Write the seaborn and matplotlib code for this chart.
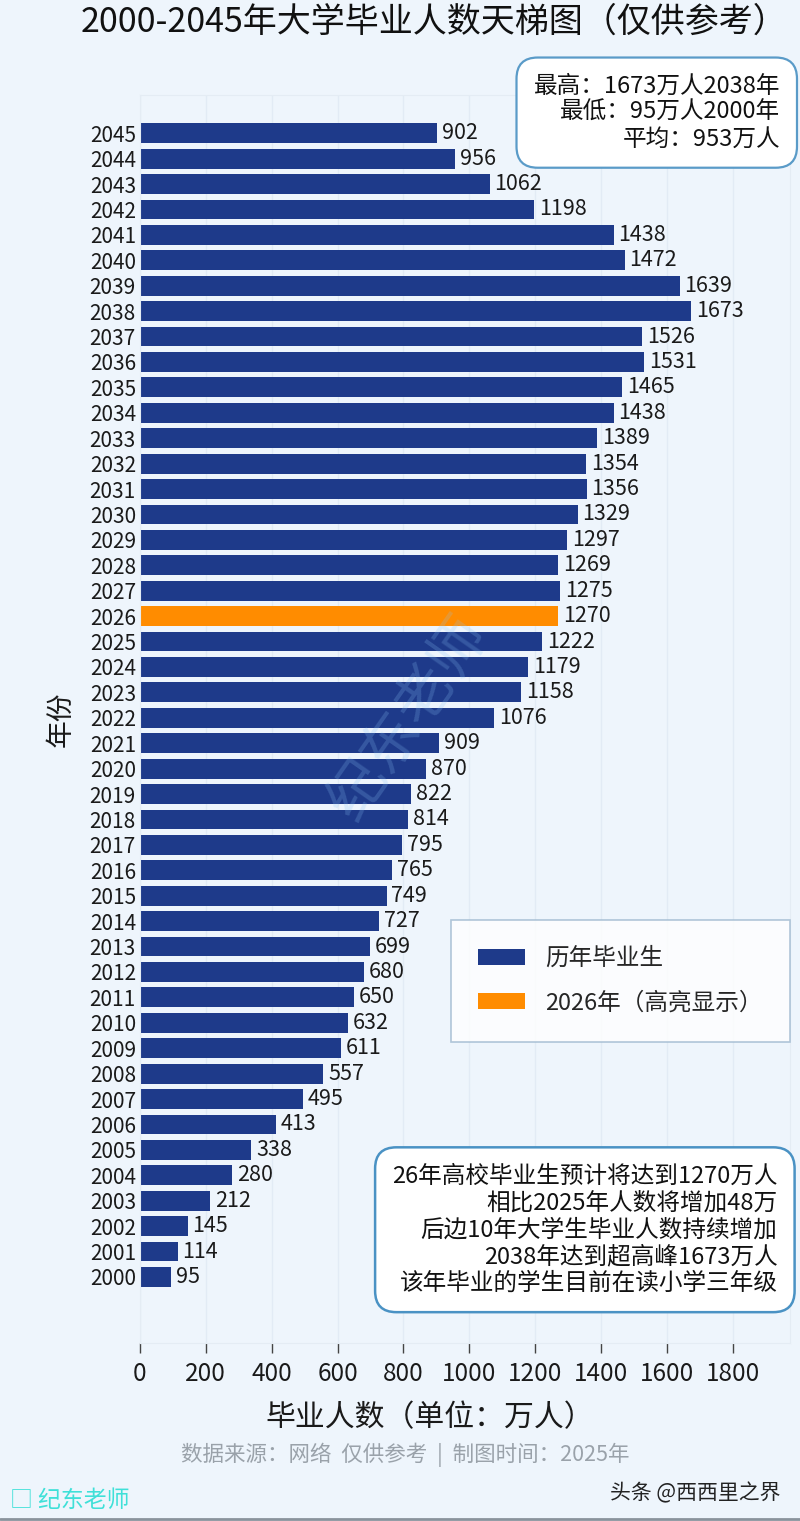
import matplotlib
matplotlib.use("Agg")
import matplotlib.pyplot as plt
import seaborn as sns
import pandas as pd
from matplotlib.patches import Patch

years = list(range(2000, 2046))
graduates = [95, 114, 145, 212, 280, 338, 413, 495, 557, 611,
             632, 650, 680, 699, 727, 749, 765, 795, 814, 822,
             870, 909, 1076, 1158, 1179, 1222, 1270, 1275, 1269, 1297,
             1329, 1356, 1354, 1389, 1438, 1465, 1531, 1526, 1673, 1639,
             1472, 1438, 1198, 1062, 956, 902]
highlight_year = 2026
legend_labels = ["历年毕业生", "2026年（高亮显示）"]
x_ticks = [0, 200, 400, 600, 800, 1000, 1200, 1400, 1600, 1800]

title = "2000-2045年大学毕业人数天梯图（仅供参考）"
info_text = "最高：1673万人2038年\n最低：95万人2000年\n平均：953万人"
note_text = ("26年高校毕业生预计将达到1270万人\n相比2025年人数将增加48万\n"
             "后边10年大学生毕业人数持续增加\n2038年达到超高峰1673万人\n"
             "该年毕业的学生目前在读小学三年级")
footer = "数据来源：网络  仅供参考  |  制图时间：2025年"

NAVY = "#1E3A8A"
ORANGE = "#FF8C00"
BG = "#EEF5FC"

sns.set_theme(style="white")
plt.rcParams['font.family'] = ['Noto Sans CJK SC', 'DejaVu Sans']
plt.rcParams['axes.unicode_minus'] = False

df = pd.DataFrame({
    "year": [str(y) for y in years],
    "value": graduates,
    "group": [legend_labels[1] if y == highlight_year else legend_labels[0] for y in years],
})
order = [str(y) for y in sorted(years, reverse=True)]

fig = plt.figure(figsize=(8, 15.21), dpi=100, facecolor=BG)
ax = fig.add_axes([0.175, 0.117, 0.8125, 0.8205])
ax.set_facecolor(BG)

sns.barplot(data=df, y="year", x="value", hue="group", order=order,
            palette={legend_labels[0]: NAVY, legend_labels[1]: ORANGE},
            orient="h", width=0.78, dodge=False, legend=False, ax=ax,
            edgecolor="none", saturation=1)

for cont in ax.containers:
    ax.bar_label(cont, fmt="%d", padding=3.5, fontsize=15.5, color="#1A1A1A")

ax.set_xlim(0, 1974)
ax.set_ylim(len(order) - 1 + 2.6, -1.5)
ax.set_xticks(x_ticks)
ax.set_xticklabels([str(t) for t in x_ticks], fontsize=17.5, color="#1A1A1A")
ax.tick_params(axis="x", length=7, width=1, color="#444444", pad=6, bottom=True)
ax.tick_params(axis="y", length=0, labelsize=15, labelcolor="#1A1A1A", pad=3)
ax.grid(axis="x", color="#E2EBF5", linewidth=1)
ax.grid(axis="y", visible=False)
ax.set_axisbelow(True)
for s in ax.spines.values():
    s.set_visible(True)
    s.set_color("#E4ECF4")
    s.set_linewidth(0.8)

ax.set_xlabel("毕业人数（单位：万人）", fontsize=21.5, labelpad=8, color="#1A1A1A")
ax.xaxis.set_label_coords(0.446, -0.047)
ax.set_ylabel("年份", fontsize=20, labelpad=10, color="#1A1A1A")

handles = [Patch(facecolor=NAVY, edgecolor="none"), Patch(facecolor=ORANGE, edgecolor="none")]
leg = ax.legend(handles, legend_labels, loc="upper right", bbox_to_anchor=(1.0, 0.339),
                fontsize=17, frameon=True, fancybox=False, handlelength=2.0,
                handleheight=0.7, handletextpad=0.85, labelspacing=0.9,
                borderpad=1.15, borderaxespad=0)
leg.get_frame().set_facecolor("white")
leg.get_frame().set_edgecolor("#9EB8CF")
leg.get_frame().set_linewidth(1.2)

fig.text(0.543, 0.9855, title, fontsize=24.5, ha="center", va="center", color="#111111")

fig.text(0.975, 0.951, info_text, fontsize=17, ha="right", va="top",
         multialignment="right", linespacing=1.2, color="#111111",
         bbox=dict(boxstyle="round,pad=0.72,rounding_size=0.9", facecolor="white",
                   edgecolor="#5A9BC8", linewidth=1.6))

fig.text(0.972, 0.2345, note_text, fontsize=17, ha="right", va="top",
         multialignment="right", linespacing=1.22, color="#111111",
         bbox=dict(boxstyle="round,pad=0.72,rounding_size=0.9", facecolor="white",
                   edgecolor="#4A92C4", linewidth=1.8))

fig.text(0.507, 0.0435, footer, fontsize=15.5, ha="center", va="center", color="#9AA2AA")

fig.text(0.012, 0.0135, "□ 纪东老师", fontsize=16.5, ha="left", va="center", color="#3FE0D8")
fig.text(0.975, 0.0185, "头条 @西西里之界", fontsize=15, ha="right", va="center", color="#222222")

fig.text(0.512, 0.528, "纪东老师", fontsize=42, rotation=55, ha="center", va="center",
         color="#8CC4F5", alpha=0.22)

fig.add_artist(plt.Line2D([0, 1], [0.001, 0.001], color="#8A939C", linewidth=2,
                          transform=fig.transFigure))

fig.savefig("out.png", dpi=100, facecolor=BG)
